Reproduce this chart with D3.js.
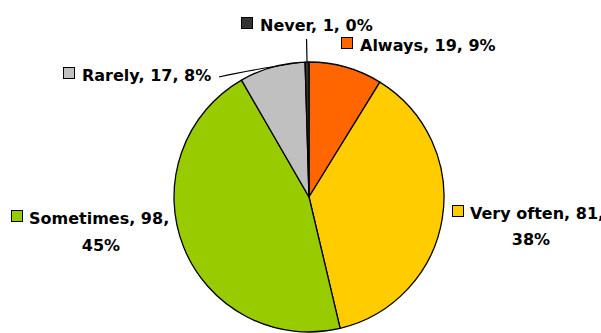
<!DOCTYPE html>
<html><head><meta charset="utf-8">
<script src="https://cdn.jsdelivr.net/npm/d3@7"></script>
<style>body{margin:0;background:#fff}svg{display:block}</style>
</head><body>
<svg id="c" width="601" height="333"></svg>
<script>
const categories = ["Always", "Very often", "Sometimes", "Rarely", "Never"];
const values = [19, 81, 98, 17, 1];
const percentLabels = ["9%", "38%", "45%", "8%", "0%"];
const colors = ["#ff6600", "#ffcc00", "#99cc00", "#c0c0c0", "#333333"];

// label layout (style/positions only)
const labelLayout = {
  "Always":     {x: 341, y: 51, lines: 1},
  "Very often": {x: 452, y: 219, lines: 2, cx: 531, dy: 26},
  "Sometimes":  {x: 11,  y: 224, lines: 2, cx: 101, dy: 27},
  "Rarely":     {x: 63,  y: 81, lines: 1},
  "Never":      {x: 241, y: 31, lines: 1}
};

const svg = d3.select("#c");
const W = 601, H = 333;
const cx = 309, cy = 197, R = 135;

const pie = d3.pie().sort(null).value(d => d.value).startAngle(0).endAngle(2 * Math.PI);
const data = categories.map((c, i) => ({cat: c, value: values[i], pct: percentLabels[i], color: colors[i]}));
const arcs = pie(data);
const arc = d3.arc().innerRadius(0).outerRadius(R);

const g = svg.append("g").attr("transform", `translate(${cx},${cy})`);
g.selectAll("path.slice").data(arcs).enter().append("path")
  .attr("class", "slice")
  .attr("d", arc)
  .attr("fill", d => d.data.color)
  .attr("stroke", "#000")
  .attr("stroke-width", 1.3)
  .attr("stroke-linejoin", "round");

// leader lines
function arcPoint(a, r) { return [cx + r * Math.sin(a), cy - r * Math.cos(a)]; }
const never = arcs[4];
const pN = arcPoint((never.startAngle + never.endAngle) / 2, R);
svg.append("line").attr("x1", pN[0]).attr("y1", pN[1]).attr("x2", pN[0] - 0.5).attr("y2", 39)
  .attr("stroke", "#000").attr("stroke-width", 1.2);
const pR = arcPoint(never.startAngle - 0.03, R);
svg.append("path")
  .attr("d", `M219,77 Q250,70 ${pR[0]},${pR[1]}`)
  .attr("fill", "none").attr("stroke", "#000").attr("stroke-width", 1.2);

const font = "'DejaVu Sans', sans-serif";
arcs.forEach(d => {
  const L = labelLayout[d.data.cat];
  const lg = svg.append("g");
  lg.append("rect").attr("x", L.x + 0.5).attr("y", L.y - 13.5).attr("width", 11).attr("height", 11)
    .attr("fill", d.data.color).attr("stroke", "#000").attr("stroke-width", 1);
  const t = lg.append("text").attr("font-family", font).attr("font-weight", "bold")
    .attr("font-size", 16).attr("fill", "#000");
  if (L.lines === 1) {
    t.attr("x", L.x + 19).attr("y", L.y).text(`${d.data.cat}, ${d.data.value}, ${d.data.pct}`);
  } else {
    t.attr("x", L.x + 18).attr("y", L.y).text(`${d.data.cat}, ${d.data.value},`);
    lg.append("text").attr("font-family", font).attr("font-weight", "bold").attr("font-size", 16)
      .attr("text-anchor", "middle").attr("x", L.cx).attr("y", L.y + L.dy).text(d.data.pct);
  }
});
</script>
</body></html>
